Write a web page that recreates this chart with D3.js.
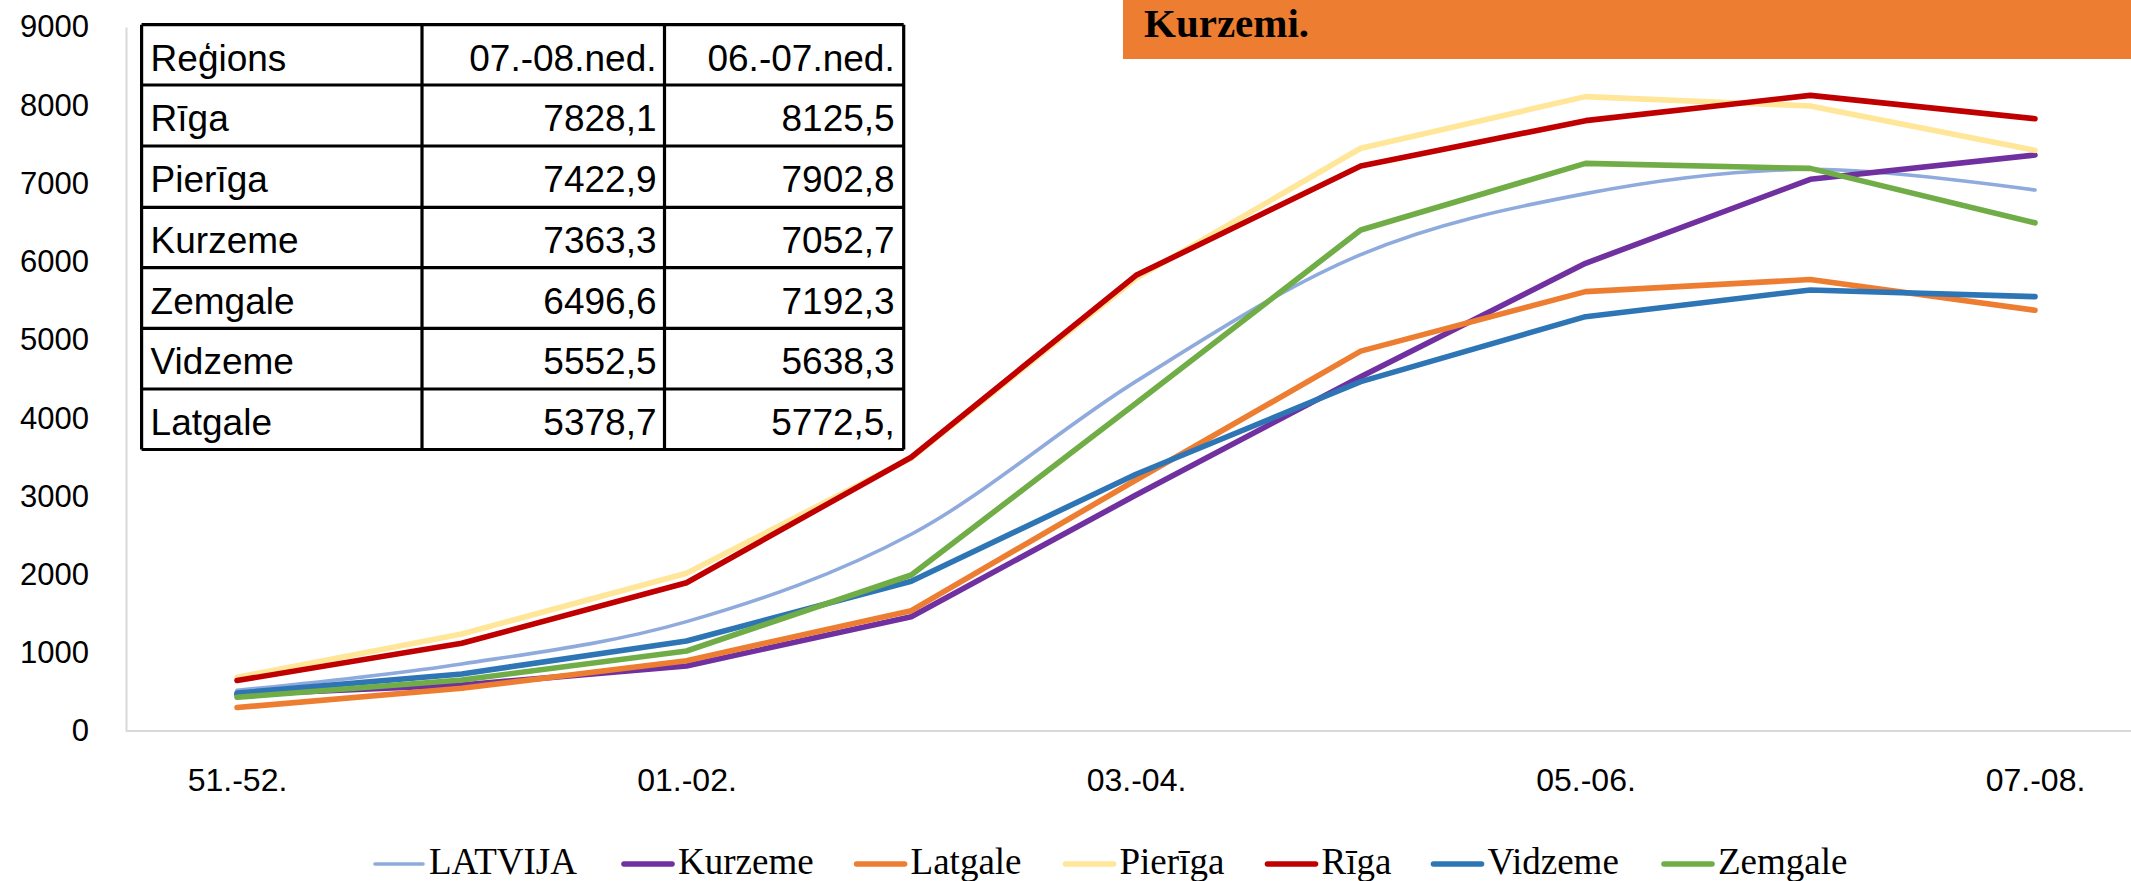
<!DOCTYPE html>
<html>
<head>
<meta charset="utf-8">
<script src="https://cdn.jsdelivr.net/npm/d3@7"></script>
<style>
  html, body { margin: 0; padding: 0; background: #fff; }
  svg { display: block; }
</style>
</head>
<body>
<svg id="chart" width="2131" height="881"></svg>
<script>
// ---- data ----
const categories = ["51.-52.", "52.-53.", "01.-02.", "02.-03.", "03.-04.", "04.-05.", "05.-06.", "06.-07.", "07.-08."];
const shownTicks = ["51.-52.", "01.-02.", "03.-04.", "05.-06.", "07.-08."];
const yTicks = [0, 1000, 2000, 3000, 4000, 5000, 6000, 7000, 8000, 9000];

const seriesNames = ["LATVIJA", "Kurzeme", "Latgale", "Pierīga", "Rīga", "Vidzeme", "Zemgale"];
const latvija = [520, 857, 1398, 2515, 4470, 6090, 6870, 7181, 6916];
const kurzeme = [465, 588, 831, 1461, 3017, 4530, 5979, 7052.7, 7363.3];
const latgale = [300, 546, 899, 1538, 3209, 4856, 5617, 5772.5, 5378.7];
const pieriga = [686, 1240, 2016, 3490, 5787, 7450, 8110, 7990, 7422.9];
const riga    = [645, 1121, 1896, 3500, 5825, 7222, 7803, 8125.5, 7828.1];
const vidzeme = [485, 729, 1151, 1915, 3282, 4466, 5297, 5638.3, 5552.5];
const zemgale = [431, 652, 1023, 1994, 4189, 6405, 7257, 7192.3, 6496.6];

const tableHeader = ["Reģions", "07.-08.ned.", "06.-07.ned."];
const tableRegions = ["Rīga", "Pierīga", "Kurzeme", "Zemgale", "Vidzeme", "Latgale"];
const tableCol1 = ["7828,1", "7422,9", "7363,3", "6496,6", "5552,5", "5378,7"];
const tableCol2 = ["8125,5", "7902,8", "7052,7", "7192,3", "5638,3", "5772,5,"];

const titleText = "Kurzemi.";

// ---- styles ----
const colors = {
  "LATVIJA": "#8FAADC", "Kurzeme": "#7030A0", "Latgale": "#ED7D31",
  "Pierīga": "#FFE699", "Rīga": "#C00000", "Vidzeme": "#2E75B6", "Zemgale": "#70AD47"
};
const widths = { "LATVIJA": 3.6 };
const seriesValues = [latvija, kurzeme, latgale, pieriga, riga, vidzeme, zemgale];

const svg = d3.select("#chart");

const x = d3.scalePoint().domain(categories).range([237, 2035]);
const y = d3.scaleLinear().domain([0, 9000]).range([731, 27]);

// x-axis baseline
svg.append("line")
  .attr("x1", 126).attr("x2", 2131).attr("y1", 731).attr("y2", 731)
  .attr("stroke", "#D9D9D9").attr("stroke-width", 2);

// y axis
const yAxis = svg.append("g").attr("transform", "translate(126,0)")
  .call(d3.axisLeft(y).tickValues(yTicks).tickSize(0).tickSizeOuter(0).tickPadding(37).tickFormat(d3.format("d")));
yAxis.select(".domain").attr("stroke", "#D9D9D9").attr("stroke-width", 2);
yAxis.selectAll("text").attr("font-family", "Liberation Sans, Arial, sans-serif")
  .attr("font-size", 31).attr("fill", "#000");

// x axis
const xAxis = svg.append("g").attr("transform", "translate(0,731)")
  .call(d3.axisBottom(x).tickValues(shownTicks).tickSize(0).tickPadding(37));
xAxis.select(".domain").remove();
xAxis.selectAll("text").attr("font-family", "Liberation Sans, Arial, sans-serif")
  .attr("font-size", 32).attr("fill", "#000");

// table background
const tX = [141.6, 422, 664.5, 903.7];
const tY = [24.7, 85, 146, 207.3, 267.7, 328.3, 389, 449.5];
svg.append("rect").attr("x", tX[0]).attr("y", tY[0])
  .attr("width", tX[3] - tX[0]).attr("height", tY[7] - tY[0]).attr("fill", "#fff");

// lines
const lineGen = d3.line().x((d, i) => x(categories[i])).y(d => y(d));
const smoothGen = d3.line().x((d, i) => x(categories[i])).y(d => y(d)).curve(d3.curveCardinal.tension(0));

seriesNames.forEach((name, si) => {
  svg.append("path")
    .datum(seriesValues[si])
    .attr("d", name === "LATVIJA" ? smoothGen : lineGen)
    .attr("fill", "none")
    .attr("stroke", colors[name])
    .attr("stroke-width", widths[name] || 5.6)
    .attr("stroke-linejoin", "round")
    .attr("stroke-linecap", "round");
});

// table grid
const tg = svg.append("g").attr("stroke", "#000").attr("stroke-width", 3.2);
tY.forEach(v => tg.append("line").attr("x1", tX[0]).attr("x2", tX[3]).attr("y1", v).attr("y2", v));
tX.forEach(v => tg.append("line").attr("x1", v).attr("x2", v).attr("y1", tY[0]).attr("y2", tY[7]));

const rows = [tableHeader].concat(tableRegions.map((r, i) => [r, tableCol1[i], tableCol2[i]]));
const tt = svg.append("g").attr("font-family", "Liberation Sans, Arial, sans-serif")
  .attr("font-size", 37).attr("fill", "#000");
rows.forEach((row, ri) => {
  const base = tY[ri] + 46;
  tt.append("text").attr("x", tX[0] + 9).attr("y", base).text(row[0]);
  tt.append("text").attr("x", tX[2] - 8).attr("y", base).attr("text-anchor", "end").text(row[1]);
  tt.append("text").attr("x", tX[3] - 9).attr("y", base).attr("text-anchor", "end").text(row[2]);
});

// title box
svg.append("rect").attr("x", 1123).attr("y", 0).attr("width", 2131 - 1123).attr("height", 59)
  .attr("fill", "#ED7D31");
svg.append("text").attr("x", 1144).attr("y", 37)
  .attr("font-family", "Liberation Serif, Times New Roman, serif")
  .attr("font-weight", "bold").attr("font-size", 41).attr("fill", "#000")
  .text(titleText);

// legend
const legendX = [373, 622, 854.6, 1063.5, 1265.5, 1431.5, 1662];
const lg = svg.append("g");
seriesNames.forEach((name, i) => {
  const g = lg.append("g").attr("transform", `translate(${legendX[i]},0)`);
  g.append("line").attr("x1", 2).attr("x2", 50).attr("y1", 864).attr("y2", 864)
    .attr("stroke", colors[name]).attr("stroke-width", widths[name] || 5.6)
    .attr("stroke-linecap", "round");
  g.append("text").attr("x", 56).attr("y", 873.5)
    .attr("font-family", "Liberation Serif, Times New Roman, serif")
    .attr("font-size", 37).attr("fill", "#000").text(name);
});
</script>
</body>
</html>
